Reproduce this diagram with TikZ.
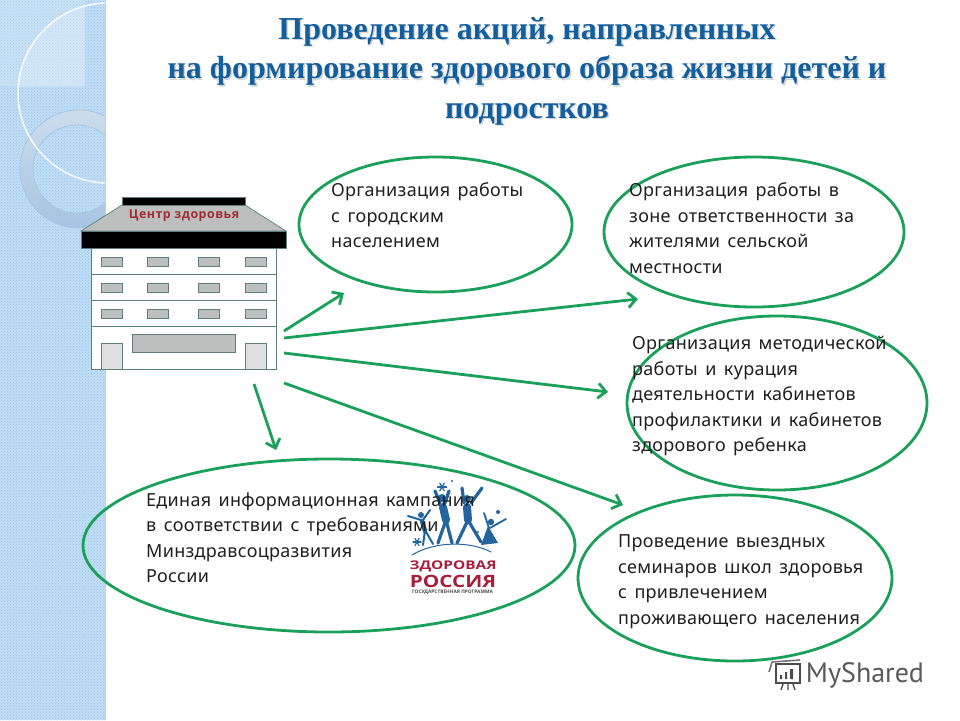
\documentclass[tikz,border=0pt]{standalone}
\usepackage{fontspec}
\setmainfont{Open Sans}
\newfontfamily\titlefont{Liberation Serif}
\newfontfamily\ovalfont{Noto Sans}[LetterSpace=1.6,WordSpace=1.5]
\newfontfamily\signfont{Open Sans}[LetterSpace=4]
\newfontfamily\logofont{Open Sans}
\newfontfamily\markfont{PT Sans}
\usepackage{xcolor}
\usetikzlibrary{shapes, positioning}
\usetikzlibrary{patterns, arrows.meta}
\definecolor{panelblue}{HTML}{BFDDF5}
\definecolor{paneldot}{HTML}{9CC6EA}
\definecolor{ringtop}{HTML}{CBDDEC}
\definecolor{ringbottom}{HTML}{A6C5E2}
\definecolor{titleblue}{HTML}{135E9C}
\definecolor{ovalgreen}{HTML}{1BA05A}
\definecolor{roofgrey}{HTML}{BDBFBE}
\definecolor{edgegrey}{HTML}{5F7F7C}
\definecolor{logoblue}{HTML}{23649F}
\definecolor{logored}{HTML}{A81E3C}
\definecolor{signred}{HTML}{A0302F}
\newcommand{\titlelines}{Проведение акций, направленных\\на формирование здорового образа жизни детей и\\подростков}
\tikzset{
	oval/.style={ellipse, draw=ovalgreen, line width=2.8pt, inner sep=0pt},
	arrowline/.style={draw=ovalgreen, line width=2.8pt, -{Straight Barb[length=8pt,width=15pt,line width=2.8pt]}},
	ovaltext/.style={anchor=west, align=left, inner sep=0pt, text=black!88, font=\ovalfont\fontsize{18}{25.5}\selectfont},
	titletext/.style={align=center, inner sep=0pt, font=\titlefont\bfseries\fontsize{32}{39.5}\selectfont},
	wallpart/.style={draw=edgegrey, line width=0.7pt},
	windowbox/.style={draw=edgegrey, fill=roofgrey, line width=0.7pt},
	blackpart/.style={draw=edgegrey, fill=black, line width=0.7pt},
	logofig/.style={draw=logoblue, line cap=round, line join=round},
}
\begin{document}
\begin{tikzpicture}[x=1pt, y=-1pt]
	\useasboundingbox (0,0) rectangle (960,720);
	% side panel
	\begin{scope}
		\clip (0,0) rectangle (105,720);
		\fill[panelblue] (0,0) rectangle (105,720);
		\fill[pattern=crosshatch dots, pattern color=paneldot] (0,0) rectangle (105,720);
		\fill[white, opacity=0.15] (0,0) rectangle (85,86);
		\begin{scope}
			\clip (0,0) rectangle (85,86);
			\fill[white, opacity=0.2] (108,93) circle (90);
		\end{scope}
		\shade[top color=ringtop, bottom color=ringbottom, even odd rule] (79,169) circle (59) (77,169) circle (44);
		\draw[ringbottom, line width=0.7pt] (79,169) circle (59) (77,169) circle (44);
		\draw[white, opacity=0.85, line width=1.6pt] (108,93) circle (90);
	\end{scope}
	\draw[black!20, line width=0.6pt] (105.5,0) -- (105.5,720);

	% title
	\node[titletext, text=black!35, opacity=0.45] (titleshadow) at (528.5,72.5) {\titlelines};
	\node[titletext, text=titleblue] (title) at (527,71) {\titlelines};

	% building
	\draw[wallpart, fill=white] (91,248) rectangle (276,369);
	\draw[wallpart] (91,274) -- (276,274) (91,300) -- (276,300) (91,326) -- (276,326);
	\foreach \winx in {101,147,198,245} {
		\foreach \winy in {257,283,309} {
			\draw[windowbox] (\winx,\winy) rectangle ++(21,9);
		}
	}
	\draw[windowbox] (132,334) rectangle (235,352);
	\draw[wallpart, fill=black!12] (101,369) rectangle (122,343);
	\draw[wallpart, fill=black!12] (245,369) rectangle (266,343);
	\draw[wallpart, fill=roofgrey] (122,205) -- (245,205) -- (286,231) -- (81,231) -- cycle;
	\draw[blackpart] (122,197) rectangle (245,205);
	\draw[blackpart] (81,231) rectangle (286,248);
	\node[text=signred, font=\signfont\bfseries\fontsize{12.4}{13}\selectfont, inner sep=0pt] (roofsign) at (184,216) {Центр здоровья};

	% logo
	\draw[logofig, line width=1pt] (412,555) .. controls (435,541) and (470,541) .. (491,552);
	\foreach \headx/\heady/\headr in {421/515/3, 442/498/4, 467/499/4, 491/522/3.2} {
		\fill[logoblue] (\headx,\heady) circle (\headr);
	}
	\draw[logofig, line width=4.5pt] (422,521) -- (425,531);
	\draw[logofig, line width=2pt] (425,530) -- (423,545) (425,530) -- (433,544) (421,520) -- (408,516) (423,520) -- (430,510);
	\draw[logofig, line width=8pt] (443,507) -- (446,520);
	\draw[logofig, line width=3.2pt] (446,520) -- (438,543) (446,520) -- (452,543) (440,503) -- (435,491) (445,503) -- (449,491);
	\draw[logofig, line width=8pt] (467,507) -- (468,520);
	\draw[logofig, line width=3.2pt] (468,520) -- (457,543) (468,520) -- (481,542) (464,503) -- (462,488) (471,503) -- (482,488);
	\fill[logoblue] (488,526) -- (481,545) -- (498,543) -- cycle;
	\draw[logofig, line width=1.8pt] (489,528) -- (484,513) (490,528) -- (506,519);
	\foreach \starx/\stary/\starr in {442/487/4.5, 417/542/4} {
		\foreach \stara in {0,60,120} {
			\draw[logofig, line width=1.2pt] (\starx,\stary) ++(\stara:\starr) -- ++(\stara+180:2*\starr);
		}
	}
	\fill[logoblue] (452,481) circle (1.2) (498,512) circle (2) (478,532) circle (1.2);
	\node[text=logored, font=\logofont\bfseries\fontsize{12}{14}\selectfont, inner sep=0pt, xscale=1.28, transform shape] (logotop) at (453,566) {ЗДОРОВАЯ};
	\node[text=logored, font=\logofont\bfseries\fontsize{17}{18}\selectfont, inner sep=0pt, xscale=1.22, transform shape] (logomid) at (453,581) {РОССИЯ};
	\node[text=black!70, font=\logofont\bfseries\fontsize{4.8}{5}\selectfont, inner sep=0pt] (logosub) at (452.5,592.5) {ГОСУДАРСТВЕННАЯ ПРОГРАММА};

	% ovals
	\node[oval, minimum width=273pt, minimum height=135pt] (cityoval) at (435.5,224.5) {};
	\node[oval, minimum width=300pt, minimum height=150pt] (ruraloval) at (754,232) {};
	\node[oval, minimum width=300pt, minimum height=174pt] (methodoval) at (777,403) {};
	\node[oval, minimum width=492pt, minimum height=173pt] (infooval) at (329,545.5) {};
	\node[oval, minimum width=314pt, minimum height=166pt] (seminaroval) at (735,578) {};

	\node[ovaltext] (citytext) at (331,215.5) {Организация работы\\с городским\\населением};
	\node[ovaltext] (ruraltext) at (629,228) {Организация работы в\\зоне ответственности за\\жителями сельской\\местности};
	\node[ovaltext] (methodtext) at (632,396) {Организация методической\\работы и курация\\деятельности кабинетов\\профилактики и кабинетов\\здорового ребенка};
	\node[ovaltext] (infotext) at (146,537.5) {Единая информационная кампания\\в соответствии с требованиями\\Минздравсоцразвития\\России};
	\node[ovaltext] (seminartext) at (618,581.5) {Проведение выездных\\семинаров школ здоровья\\с привлечением\\проживающего населения};

	% connectors
	\coordinate (cityfrom) at (284,331);
	\coordinate (cityto) at (344,293);
	\coordinate (ruralfrom) at (284,338);
	\coordinate (ruralto) at (638,299);
	\coordinate (methodfrom) at (284,353);
	\coordinate (methodto) at (608,392);
	\coordinate (seminarfrom) at (284,383);
	\coordinate (seminarto) at (623,505);
	\coordinate (infofrom) at (254,384);
	\coordinate (infoto) at (276,450);
	\draw[arrowline] (cityfrom) -- (cityto);
	\draw[arrowline] (ruralfrom) -- (ruralto);
	\draw[arrowline] (methodfrom) -- (methodto);
	\draw[arrowline] (seminarfrom) -- (seminarto);
	\draw[arrowline] (infofrom) -- (infoto);

	% watermark
	\draw[black!70, line width=1.6pt] (776,664) rectangle (800,683);
	\draw[black!55, line width=1.6pt] (772,662) -- (800,660) (772,662) -- (769,672);
	\fill[black!70] (780,675) rectangle (782,679) (785,672) rectangle (787,679) (790,669) rectangle (793,679);
	\draw[black!70, line width=1.4pt] (783,684) -- (781,690) (788,684) -- (788,690) (793,684) -- (795,690);
	\node[text=black!65, font=\markfont\fontsize{28}{30}\selectfont, inner sep=0pt] (watermark) at (865,675) {MyShared};
\end{tikzpicture}
\end{document}
